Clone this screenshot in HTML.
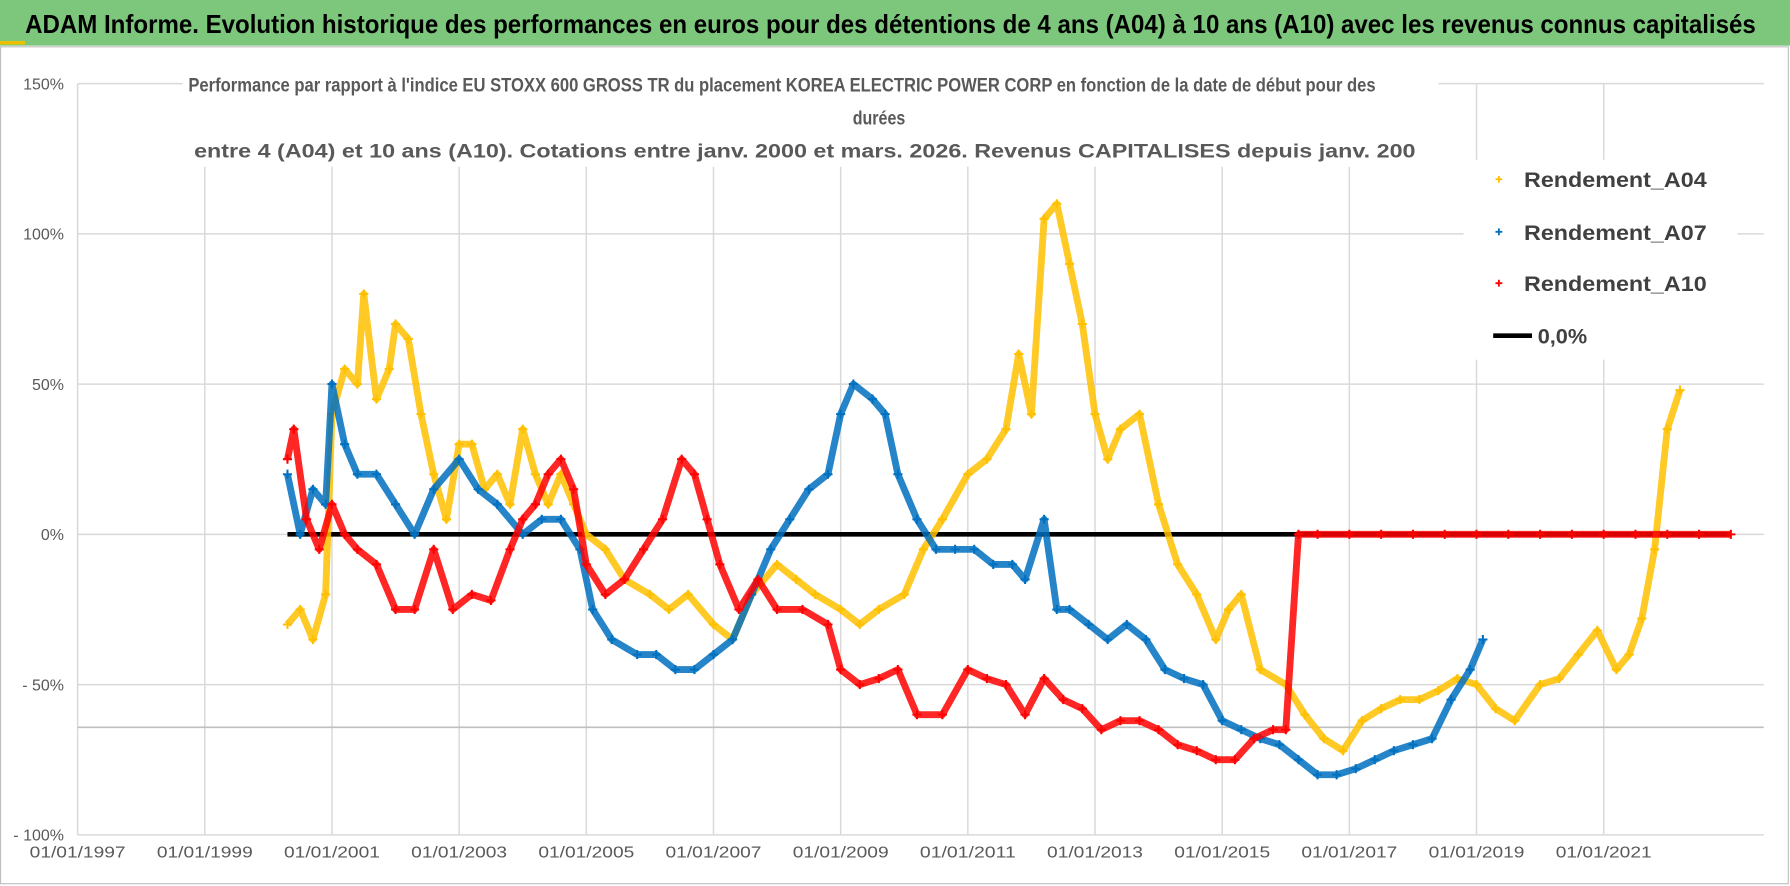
<!DOCTYPE html>
<html><head><meta charset="utf-8">
<style>
html,body{margin:0;padding:0;background:#fff;}
body{width:1790px;height:886px;overflow:hidden;position:relative;font-family:"Liberation Sans",sans-serif;}
svg{position:absolute;left:0;top:0;}
</style></head><body>
<svg id="chart" width="1790" height="886" viewBox="0 0 1568 776" preserveAspectRatio="none">
<rect x="0" y="0" width="1568" height="40" fill="#7dc77d"/>
<rect x="0" y="36" width="22" height="3" fill="#f0c000"/>
<text x="22" y="29" font-size="23" font-weight="bold" fill="#000" textLength="1516" lengthAdjust="spacingAndGlyphs">ADAM Informe. Evolution historique des performances en euros pour des détentions de 4 ans (A04) à 10 ans (A10) avec les revenus connus capitalisés</text>
<rect x="0.5" y="41" width="1566" height="733" fill="none" stroke="#bfbfbf" stroke-width="1"/>
</svg>
<script>
const yTicks=[150,100,50,0,-50,-100];
const yTickLabels=["150%","100%","50%","0%","- 50%","- 100%"];
const xTicks=[1997,1999,2001,2003,2005,2007,2009,2011,2013,2015,2017,2019,2021];
const xTickLabels=["01/01/1997","01/01/1999","01/01/2001","01/01/2003","01/01/2005","01/01/2007","01/01/2009","01/01/2011","01/01/2013","01/01/2015","01/01/2017","01/01/2019","01/01/2021"];
const a04Dates=[2000.3,2000.5,2000.7,2000.9,2001.0,2001.2,2001.4,2001.5,2001.7,2001.9,2002.0,2002.2,2002.4,2002.6,2002.8,2003.0,2003.2,2003.4,2003.6,2003.8,2004.0,2004.2,2004.4,2004.6,2004.8,2005.0,2005.3,2005.6,2006.0,2006.3,2006.6,2007.0,2007.3,2007.6,2008.0,2008.3,2008.6,2009.0,2009.3,2009.6,2010.0,2010.3,2010.6,2011.0,2011.3,2011.6,2011.8,2012.0,2012.2,2012.4,2012.6,2012.8,2013.0,2013.2,2013.4,2013.7,2014.0,2014.3,2014.6,2014.9,2015.1,2015.3,2015.6,2016.0,2016.3,2016.6,2016.9,2017.2,2017.5,2017.8,2018.1,2018.4,2018.7,2019.0,2019.3,2019.6,2020.0,2020.3,2020.6,2020.9,2021.2,2021.4,2021.6,2021.8,2022.0,2022.2];
const a04Values=[-30,-25,-35,-20,40,55,50,80,45,55,70,65,40,20,5,30,30,15,20,10,35,20,10,20,10,0,-5,-15,-20,-25,-20,-30,-35,-20,-10,-15,-20,-25,-30,-25,-20,-5,5,20,25,35,60,40,105,110,90,70,40,25,35,40,10,-10,-20,-35,-25,-20,-45,-50,-60,-68,-72,-62,-58,-55,-55,-52,-48,-50,-58,-62,-50,-48,-40,-32,-45,-40,-28,-5,35,48];
const a07Dates=[2000.3,2000.5,2000.7,2000.9,2001.0,2001.2,2001.4,2001.7,2002.0,2002.3,2002.6,2003.0,2003.3,2003.6,2004.0,2004.3,2004.6,2004.9,2005.1,2005.4,2005.8,2006.1,2006.4,2006.7,2007.0,2007.3,2007.6,2007.9,2008.2,2008.5,2008.8,2009.0,2009.2,2009.5,2009.7,2009.9,2010.2,2010.5,2010.8,2011.1,2011.4,2011.7,2011.9,2012.2,2012.4,2012.6,2012.9,2013.2,2013.5,2013.8,2014.1,2014.4,2014.7,2015.0,2015.3,2015.6,2015.9,2016.2,2016.5,2016.8,2017.1,2017.4,2017.7,2018.0,2018.3,2018.6,2018.9,2019.1];
const a07Values=[20,0,15,10,50,30,20,20,10,0,15,25,15,10,0,5,5,-5,-25,-35,-40,-40,-45,-45,-40,-35,-20,-5,5,15,20,40,50,45,40,20,5,-5,-5,-5,-10,-10,-15,5,-25,-25,-30,-35,-30,-35,-45,-48,-50,-62,-65,-68,-70,-75,-80,-80,-78,-75,-72,-70,-68,-55,-45,-35];
const a10Dates=[2000.3,2000.4,2000.6,2000.8,2001.0,2001.2,2001.4,2001.7,2002.0,2002.3,2002.6,2002.9,2003.2,2003.5,2003.8,2004.0,2004.2,2004.4,2004.6,2004.8,2005.0,2005.3,2005.6,2005.9,2006.2,2006.5,2006.7,2006.9,2007.1,2007.4,2007.7,2008.0,2008.4,2008.8,2009.0,2009.3,2009.6,2009.9,2010.2,2010.6,2011.0,2011.3,2011.6,2011.9,2012.2,2012.5,2012.8,2013.1,2013.4,2013.7,2014.0,2014.3,2014.6,2014.9,2015.2,2015.5,2015.8,2016.0,2016.2,2016.5,2017.0,2017.5,2018.0,2018.5,2019.0,2019.5,2020.0,2020.5,2021.0,2021.5,2022.0,2022.5,2023.0];
const a10Values=[25,35,5,-5,10,0,-5,-10,-25,-25,-5,-25,-20,-22,-5,5,10,20,25,15,-10,-20,-15,-5,5,25,20,5,-10,-25,-15,-25,-25,-30,-45,-50,-48,-45,-60,-60,-45,-48,-50,-60,-48,-55,-58,-65,-62,-62,-65,-70,-72,-75,-75,-68,-65,-65,0,0,0,0,0,0,0,0,0,0,0,0,0,0,0];
const seriesNames=["Rendement_A04","Rendement_A07","Rendement_A10"];

const NS="http://www.w3.org/2000/svg";
const svg=document.getElementById('chart');
const X0=1997,PX0=68,PXY=55.7;
const xS=d=>PX0+(d-X0)*PXY;
const yS=v=>468-v*131.6/50;
const L=68,R=1545,T=yS(150),B=yS(-100);
function mk(tag,attrs){const e=document.createElementNS(NS,tag);for(const k in attrs)e.setAttribute(k,attrs[k]);svg.appendChild(e);return e;}

xTicks.forEach((d,i)=>{
  const g=mk('line',{x1:xS(d),x2:xS(d),y1:T,y2:B,stroke:'#d9d9d9','stroke-width':1.3});
  
  
  const t=mk('text',{x:xS(d),y:751,'text-anchor':'middle','font-size':14,fill:'#595959',textLength:84,lengthAdjust:'spacingAndGlyphs'});
  t.textContent=xTickLabels[i];
  
  
});
yTicks.forEach((v,i)=>{
  const g=mk('line',{x1:L,x2:R,y1:yS(v),y2:yS(v),stroke:'#d9d9d9','stroke-width':1.3});
  
  
  const t=mk('text',{x:56,y:yS(v)+5,'text-anchor':'end','font-size':14,fill:'#595959'});
  t.textContent=yTickLabels[i];
  
  
});
const ax=mk('line',{x1:L,x2:R,y1:637,y2:637,stroke:'#bfbfbf','stroke-width':1.5});



const tb=mk('rect',{x:160,y:58,width:1100,height:88,fill:'#fff'});


const titleLines=["Performance par rapport à l'indice EU STOXX 600 GROSS TR  du placement KOREA ELECTRIC POWER CORP en fonction de la date de début pour des","durées","entre 4 (A04) et 10 ans (A10). Cotations entre janv. 2000 et mars. 2026. Revenus CAPITALISES depuis janv. 200"];
const tX=[685,770,705],tW=[1040,46,1070];
[80,109,138].forEach((y,i)=>{
  const t=mk('text',{x:tX[i],y:y,'text-anchor':'middle','font-size':17,'font-weight':'bold',fill:'#595959',textLength:tW[i],lengthAdjust:'spacingAndGlyphs'});
  t.textContent=titleLines[i];
  
  
});

const zl=mk('line',{x1:xS(2000.3),x2:xS(2023.0),y1:yS(0),y2:yS(0),stroke:'#000','stroke-width':4});



function series(dates,vals,color,name){
  const pts=dates.map((d,i)=>xS(d)+','+yS(vals[i])).join(' ');
  const pl=mk('polyline',{points:pts,fill:'none',stroke:color,'stroke-width':6,'stroke-linejoin':'round','stroke-opacity':0.85});
  
  
  dates.forEach((d,i)=>{
    const x=xS(d),y=yS(vals[i]);
    const p=mk('path',{d:`M${x-4},${y}H${x+4}M${x},${y-4}V${y+4}`,stroke:color,'stroke-width':1.8});
    
    
  });
}
series(a04Dates,a04Values,'#ffc000','a04');
series(a07Dates,a07Values,'#0070c0','a07');
series(a10Dates,a10Values,'#ff0000','a10');

const lb=mk('rect',{x:1282,y:140,width:240,height:175,fill:'#fff'});


const legColors=['#ffc000','#0070c0','#ff0000'];
[157,203,248].forEach((y,i)=>{
  const x=1313;
  const p=mk('path',{d:`M${x-3},${y}H${x+3}M${x},${y-3}V${y+3}`,stroke:legColors[i],'stroke-width':1.6});
  
  
  const t=mk('text',{x:1335,y:y+7,'font-size':19,'font-weight':'bold',fill:'#404040',textLength:160,lengthAdjust:'spacingAndGlyphs'});
  t.textContent=seriesNames[i];
  
  
});
const ll=mk('line',{x1:1308,x2:1342,y1:294,y2:294,stroke:'#000','stroke-width':4});


const lt=mk('text',{x:1347,y:301,'font-size':19,'font-weight':'bold',fill:'#404040'});
lt.textContent='0,0%';


</script>
</body></html>
